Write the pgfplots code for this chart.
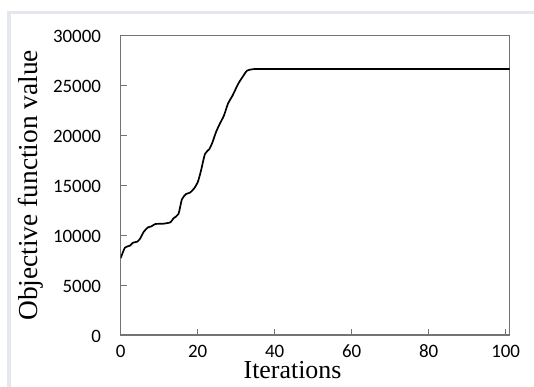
\documentclass[border=0pt]{standalone}
\usepackage{fontspec}
\setmainfont{Liberation Serif}
\newfontfamily\tickfont{Carlito}
\usepackage{pgfplots}
\pgfplotsset{compat=1.18}
\definecolor{framegray}{HTML}{E4E7EC}
\begin{document}
\begin{tikzpicture}
\path[use as bounding box] (0bp,0bp) rectangle (534bp,387bp);
\fill[white] (0bp,0bp) rectangle (534bp,387bp);
\fill[framegray] (7bp,373bp) rectangle (534bp,376bp);
\fill[framegray] (7bp,0bp) rectangle (11bp,376bp);
\begin{axis}[
  at={(120.7bp,52bp)}, anchor=south west,
  scale only axis, width=388.8bp, height=299.4bp,
  xmin=0, xmax=101, ymin=0, ymax=30000,
  xtick={0,20,...,100}, ytick={0,5000,...,30000},
  tick pos=left, tick align=inside, major tick length=6bp,
  axis line style={black!55, line width=1.1bp},
  tick style={black!55, line width=0.9bp},
  scaled y ticks=false,
  /pgf/number format/1000 sep={},
  /pgf/number format/assume math mode=true,
  ticklabel style={font=\tickfont\fontsize{19}{22}\selectfont, text=black},
  yticklabel style={inner sep=0pt, xshift=-19.5bp, yshift=-1bp},
  xticklabel style={inner sep=0pt, yshift=-10bp, text height=12bp, anchor=north},
  xlabel={Iterations},
  xlabel style={at={(axis description cs:0.442,-0.145)}, anchor=base, inner sep=0pt, font=\fontsize{26}{30}\selectfont},
  ylabel={Objective function value},
  ylabel style={at={(axis description cs:-0.214,0.5)}, anchor=base, inner sep=0pt, font=\fontsize{27.5}{30}\selectfont},
]
\addplot[black, line width=1.7bp, smooth, tension=0.4] coordinates {
(0,7700) (1.1,8750) (2.4,8950) (3.2,9250) (4.3,9350) (5.1,9690) (6,10350)
(7.1,10790) (8,10890) (9,11120) (11,11150) (12.9,11290) (13.7,11690)
(15,12120) (15.9,13590) (17,14130) (18,14260) (19.1,14700) (20,15300)
(20.8,16370) (21.9,18140) (23,18610) (23.8,19270) (24.8,20370) (25.8,21210)
(26.8,21970) (27.9,23210) (29,23950) (30.5,25150) (31.7,25880) (32.8,26480)
(34.1,26620) (35.8,26650) (50,26650) (70,26650) (90,26650) (101,26650)
};
\end{axis}
\end{tikzpicture}
\end{document}
